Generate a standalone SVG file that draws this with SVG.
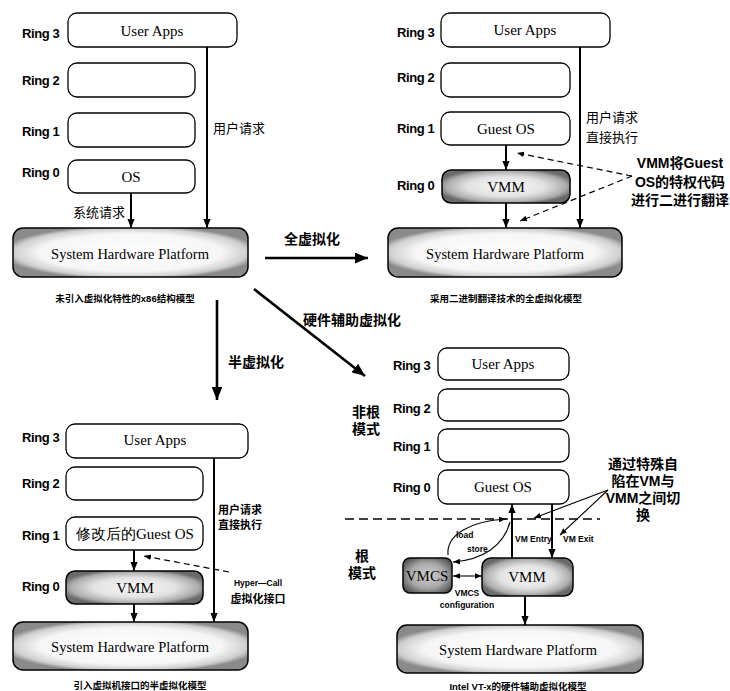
<svg xmlns="http://www.w3.org/2000/svg" width="730" height="691" viewBox="0 0 730 691">
<defs>
<radialGradient id="shade" cx="0.5" cy="0.5" r="0.55">
<stop offset="0" stop-color="#ffffff"/>
<stop offset="0.7" stop-color="#f6f6f6"/>
<stop offset="0.9" stop-color="#cfcfcf"/>
<stop offset="1" stop-color="#8a8a8a"/>
</radialGradient>
<radialGradient id="shadeMid" cx="0.5" cy="0.5" r="0.55">
<stop offset="0" stop-color="#f8f8f8"/>
<stop offset="0.55" stop-color="#e2e2e2"/>
<stop offset="0.85" stop-color="#acacac"/>
<stop offset="1" stop-color="#6a6a6a"/>
</radialGradient>
<radialGradient id="shadeDark" cx="0.5" cy="0.5" r="0.6">
<stop offset="0" stop-color="#d0d0d0"/>
<stop offset="0.6" stop-color="#a8a8a8"/>
<stop offset="1" stop-color="#555"/>
</radialGradient>
<marker id="ah" viewBox="0 0 10 8" refX="10" refY="4" markerWidth="9" markerHeight="8" markerUnits="userSpaceOnUse" orient="auto">
<path d="M0,0 L10,4 L0,8 z" fill="#000"/>
</marker>
<marker id="ahs" viewBox="0 0 10 8" refX="10" refY="4" markerWidth="7" markerHeight="6" markerUnits="userSpaceOnUse" orient="auto">
<path d="M0,0 L10,4 L0,8 z" fill="#000"/>
</marker>
<marker id="ahs0" viewBox="0 0 10 8" refX="0" refY="4" markerWidth="7" markerHeight="6" markerUnits="userSpaceOnUse" orient="auto">
<path d="M10,0 L0,4 L10,8 z" fill="#000"/>
</marker>
<marker id="ahb" viewBox="0 0 12 10" refX="12" refY="5" markerWidth="13" markerHeight="11" markerUnits="userSpaceOnUse" orient="auto">
<path d="M0,0 L12,5 L0,10 z" fill="#000"/>
</marker>
</defs>
<style>
.box{fill:#fff;stroke:#000;stroke-width:1.3}
.hw{fill:url(#shade);stroke:#000;stroke-width:1.5}
.vmm{fill:url(#shadeMid);stroke:#000;stroke-width:1.5}
.vmcs{fill:url(#shadeDark);stroke:#000;stroke-width:1.5}
.ring{font-family:"Liberation Sans",Arial,sans-serif;font-weight:bold;font-size:13px;letter-spacing:-0.4px;fill:#000}
.lbl{font-family:"Liberation Serif","Times New Roman",serif;font-size:15px;fill:#000}
.hwt{font-family:"Liberation Serif","Times New Roman",serif;font-size:14.5px;fill:#000}
.cn{font-family:"Liberation Serif","Noto Sans CJK SC",sans-serif;font-size:13px;fill:#000}
.cnb{font-family:"Liberation Sans","Noto Sans CJK SC",sans-serif;font-size:14px;font-weight:bold;fill:#000}
.cns{font-family:"Liberation Sans","Noto Sans CJK SC",sans-serif;font-size:11px;font-weight:bold;fill:#000}
.cap{font-family:"Liberation Sans","Noto Sans CJK SC",sans-serif;font-size:9.5px;font-weight:bold;fill:#000}
.sm{font-family:"Liberation Sans",Arial,sans-serif;font-size:8.5px;font-weight:bold;fill:#000}
.ln{stroke:#000;stroke-width:2;fill:none}
.big{stroke:#000;stroke-width:2.6;fill:none}
.dash{stroke:#000;stroke-width:1.2;fill:none;stroke-dasharray:6 4}
.thin{stroke:#000;stroke-width:1.1;fill:none}
</style>

<!-- Panel 1 -->
<g id="p1-labels">
<text class="ring" x="22" y="33" dominant-baseline="central">Ring 3</text>
<text class="ring" x="22" y="80" dominant-baseline="central">Ring 2</text>
<text class="ring" x="22" y="131" dominant-baseline="central">Ring 1</text>
<text class="ring" x="22" y="172" dominant-baseline="central">Ring 0</text>
</g>
<g id="p1-userapps"><rect class="box" x="68" y="13" width="169" height="34" rx="9"/><text class="lbl" x="152" y="31" text-anchor="middle" dominant-baseline="central">User Apps</text></g>
<g id="p1-ring2"><rect class="box" x="68" y="63" width="127" height="34" rx="9"/></g>
<g id="p1-ring1"><rect class="box" x="68" y="113" width="127" height="34" rx="9"/></g>
<g id="p1-os"><rect class="box" x="68" y="160" width="127" height="33" rx="9"/><text class="lbl" x="131" y="177" text-anchor="middle" dominant-baseline="central">OS</text></g>
<g id="p1-hw"><rect class="hw" x="13" y="228" width="235" height="49" rx="10"/><text class="hwt" x="130" y="254" text-anchor="middle" dominant-baseline="central">System Hardware Platform</text></g>
<text class="cap" x="125" y="298" text-anchor="middle" dominant-baseline="central">未引入虚拟化特性的x86结构模型</text>

<!-- Panel 2 -->
<g id="p2-labels">
<text class="ring" x="397" y="32" dominant-baseline="central">Ring 3</text>
<text class="ring" x="397" y="77" dominant-baseline="central">Ring 2</text>
<text class="ring" x="397" y="128" dominant-baseline="central">Ring 1</text>
<text class="ring" x="397" y="185" dominant-baseline="central">Ring 0</text>
</g>
<g id="p2-userapps"><rect class="box" x="441" y="13" width="169" height="34" rx="9"/><text class="lbl" x="525" y="30" text-anchor="middle" dominant-baseline="central">User Apps</text></g>
<g id="p2-ring2"><rect class="box" x="441" y="63" width="129" height="34" rx="9"/></g>
<g id="p2-guestos"><rect class="box" x="441" y="112" width="129" height="33" rx="9"/><text class="lbl" x="506" y="129" text-anchor="middle" dominant-baseline="central">Guest OS</text></g>
<g id="p2-vmm"><rect class="vmm" x="442" y="170" width="128" height="33" rx="9"/><text class="lbl" x="506" y="187" text-anchor="middle" dominant-baseline="central">VMM</text></g>
<g id="p2-hw"><rect class="hw" x="388" y="228" width="234" height="49" rx="10"/><text class="hwt" x="505" y="254" text-anchor="middle" dominant-baseline="central">System Hardware Platform</text></g>
<text class="cap" x="506" y="298" text-anchor="middle" dominant-baseline="central">采用二进制翻译技术的全虚拟化模型</text>
<g id="p2-note">
<text class="cnb" x="680" y="163" text-anchor="middle" dominant-baseline="central" font-size="12.5">VMM将Guest</text>
<text class="cnb" x="680" y="182" text-anchor="middle" dominant-baseline="central" font-size="12.5">OS的特权代码</text>
<text class="cnb" x="680" y="200" text-anchor="middle" dominant-baseline="central" font-size="12">进行二进行翻译</text>
</g>

<!-- Panel 3 -->
<g id="p3-labels">
<text class="ring" x="22" y="437" dominant-baseline="central">Ring 3</text>
<text class="ring" x="22" y="483" dominant-baseline="central">Ring 2</text>
<text class="ring" x="22" y="535" dominant-baseline="central">Ring 1</text>
<text class="ring" x="22" y="586" dominant-baseline="central">Ring 0</text>
</g>
<g id="p3-userapps"><rect class="box" x="66" y="424" width="182" height="34" rx="9"/><text class="lbl" x="155" y="440" text-anchor="middle" dominant-baseline="central">User Apps</text></g>
<g id="p3-ring2"><rect class="box" x="66" y="467" width="137" height="33" rx="9"/></g>
<g id="p3-guestos"><rect class="box" x="66" y="517" width="137" height="33" rx="9"/><text class="lbl" x="135" y="534" text-anchor="middle" dominant-baseline="central" font-family="'Liberation Serif','Noto Sans CJK SC',serif">修改后的Guest OS</text></g>
<g id="p3-vmm"><rect class="vmm" x="66" y="571" width="137" height="33" rx="9"/><text class="lbl" x="135" y="588" text-anchor="middle" dominant-baseline="central">VMM</text></g>
<g id="p3-hw"><rect class="hw" x="13" y="622" width="235" height="48" rx="10"/><text class="hwt" x="130" y="647" text-anchor="middle" dominant-baseline="central">System Hardware Platform</text></g>
<text class="cap" x="140" y="685" text-anchor="middle" dominant-baseline="central">引入虚拟机接口的半虚拟化模型</text>
<g id="p3-note">
<text class="sm" x="258" y="583" text-anchor="middle" dominant-baseline="central" font-size="10">Hyper—Call</text>
<text class="cns" x="258" y="599" text-anchor="middle" dominant-baseline="central" font-size="10.5">虚拟化接口</text>
</g>

<!-- Panel 4 -->
<g id="p4-labels">
<text class="ring" x="393" y="365" dominant-baseline="central">Ring 3</text>
<text class="ring" x="393" y="408" dominant-baseline="central">Ring 2</text>
<text class="ring" x="393" y="446" dominant-baseline="central">Ring 1</text>
<text class="ring" x="393" y="487" dominant-baseline="central">Ring 0</text>
<text class="cnb" x="366" y="412" text-anchor="middle" dominant-baseline="central">非根</text>
<text class="cnb" x="366" y="429" text-anchor="middle" dominant-baseline="central">模式</text>
<text class="cnb" x="362" y="556" text-anchor="middle" dominant-baseline="central">根</text>
<text class="cnb" x="362" y="573" text-anchor="middle" dominant-baseline="central">模式</text>
</g>
<g id="p4-userapps"><rect class="box" x="438" y="348" width="131" height="32" rx="9"/><text class="lbl" x="503" y="364" text-anchor="middle" dominant-baseline="central">User Apps</text></g>
<g id="p4-ring2"><rect class="box" x="438" y="389" width="131" height="32" rx="9"/></g>
<g id="p4-ring1"><rect class="box" x="438" y="429" width="131" height="33" rx="9"/></g>
<g id="p4-guestos"><rect class="box" x="438" y="470" width="131" height="34" rx="9"/><text class="lbl" x="503" y="487" text-anchor="middle" dominant-baseline="central">Guest OS</text></g>
<g id="p4-vmcs"><rect class="vmcs" x="403" y="558" width="49" height="35" rx="7"/><text class="lbl" x="427" y="576" text-anchor="middle" dominant-baseline="central" font-size="14">VMCS</text></g>
<g id="p4-vmm"><rect class="vmm" x="482" y="558" width="91" height="38" rx="9"/><text class="lbl" x="527" y="577" text-anchor="middle" dominant-baseline="central">VMM</text></g>
<g id="p4-hw"><rect class="hw" x="397" y="625" width="246" height="48" rx="10"/><text class="hwt" x="518" y="650" text-anchor="middle" dominant-baseline="central">System Hardware Platform</text></g>
<text class="cap" x="518" y="686" text-anchor="middle" dominant-baseline="central">Intel VT-x的硬件辅助虚拟化模型</text>
<g id="p4-note">
<text class="cnb" x="643" y="464" text-anchor="middle" dominant-baseline="central">通过特殊自</text>
<text class="cnb" x="643" y="481" text-anchor="middle" dominant-baseline="central">陷在VM与</text>
<text class="cnb" x="643" y="498" text-anchor="middle" dominant-baseline="central">VMM之间切</text>
<text class="cnb" x="643" y="515" text-anchor="middle" dominant-baseline="central">换</text>
</g>
<g id="p4-small">
<text class="sm" x="456" y="535" dominant-baseline="central">load</text>
<text class="sm" x="467" y="549" dominant-baseline="central">store</text>
<text class="sm" x="515" y="539" dominant-baseline="central">VM Entry</text>
<text class="sm" x="563" y="539" dominant-baseline="central">VM Exit</text>
<text class="sm" x="467" y="593" text-anchor="middle" dominant-baseline="central">VMCS</text>
<text class="sm" x="467" y="605" text-anchor="middle" dominant-baseline="central">configuration</text>
</g>

<!-- Connectors -->
<g id="connectors">
<line class="ln" x1="207" y1="47" x2="207" y2="228" marker-end="url(#ah)"/>
<text class="cn" x="213" y="128" dominant-baseline="central">用户请求</text>
<line class="ln" x1="131" y1="193" x2="131" y2="228" marker-end="url(#ah)"/>
<text class="cn" x="73" y="212" dominant-baseline="central" font-size="12">系统请求</text>
<line class="ln" x1="580" y1="47" x2="580" y2="228" marker-end="url(#ah)"/>
<text class="cn" x="586" y="117" dominant-baseline="central">用户请求</text>
<text class="cn" x="586" y="137" dominant-baseline="central">直接执行</text>
<line class="ln" x1="506" y1="145" x2="506" y2="170" marker-end="url(#ah)"/>
<line class="ln" x1="506" y1="203" x2="506" y2="228" marker-end="url(#ah)"/>
<line class="dash" x1="632" y1="176" x2="517" y2="153" marker-end="url(#ahs)"/>
<line class="dash" x1="632" y1="176" x2="520" y2="221" marker-end="url(#ahs)"/>
<line class="big" x1="265" y1="258" x2="368" y2="258" marker-end="url(#ahb)"/>
<text class="cnb" x="284" y="239" dominant-baseline="central" font-size="14.5">全虚拟化</text>
<line class="big" x1="254" y1="289" x2="365" y2="376" marker-end="url(#ahb)"/>
<text class="cnb" x="303" y="320" dominant-baseline="central" font-size="14.5">硬件辅助虚拟化</text>
<line class="big" x1="217" y1="300" x2="217" y2="400" marker-end="url(#ahb)"/>
<text class="cnb" x="228" y="362" dominant-baseline="central" font-size="14.5">半虚拟化</text>
<line class="ln" x1="214" y1="458" x2="214" y2="622" marker-end="url(#ah)"/>
<text class="cns" x="218" y="510" dominant-baseline="central" font-size="10.5">用户请求</text>
<text class="cns" x="218" y="525" dominant-baseline="central" font-size="10.5">直接执行</text>
<line class="ln" x1="134" y1="550" x2="134" y2="571" marker-end="url(#ah)"/>
<line class="ln" x1="134" y1="604" x2="134" y2="622" marker-end="url(#ah)"/>
<line class="dash" x1="229" y1="572" x2="144" y2="556" marker-end="url(#ahs)"/>
<line x1="345" y1="519" x2="600" y2="519" stroke="#000" stroke-width="1.6" stroke-dasharray="9 5"/>
<line class="ln" x1="512" y1="558" x2="512" y2="504" marker-end="url(#ah)"/>
<line class="ln" x1="552" y1="504" x2="552" y2="558" marker-end="url(#ah)"/>
<line class="ln" x1="525" y1="596" x2="525" y2="625" marker-end="url(#ah)"/>
<line class="thin" x1="453" y1="576" x2="482" y2="576" stroke-width="1.4" marker-start="url(#ahs0)" marker-end="url(#ahs)"/>
<path class="thin" d="M448,555 C446,535 470,521 506,519" marker-end="url(#ahs)"/>
<path class="thin" d="M510,522 C504,546 482,560 453,562" marker-end="url(#ahs)"/>
<line class="thin" x1="608" y1="490" x2="534" y2="518" marker-end="url(#ahs)"/>
<line class="thin" x1="608" y1="490" x2="560" y2="535" marker-end="url(#ahs)"/>
</g>
</svg>
